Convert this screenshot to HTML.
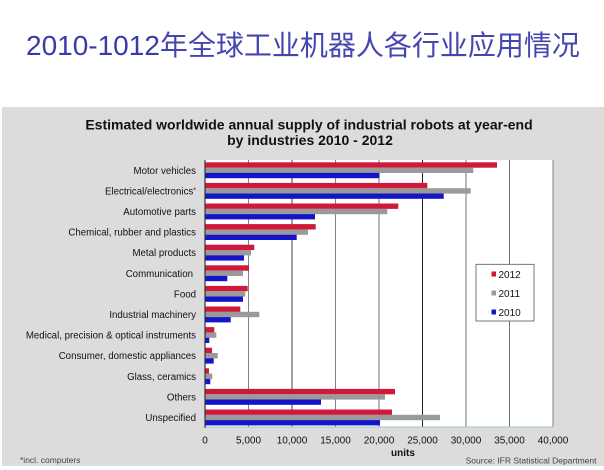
<!DOCTYPE html>
<html><head><meta charset="utf-8"><style>
html,body{margin:0;padding:0;background:#fff;}
svg{display:block;}
</style></head><body>
<svg width="604" height="470" viewBox="0 0 604 470" xmlns="http://www.w3.org/2000/svg" font-family="'Liberation Sans', Arial, sans-serif">
<rect width="604" height="470" fill="#fff"/>
<text x="26" y="55" font-size="28" fill="#3a3aa8" font-family="'Liberation Sans','Noto Sans CJK SC',sans-serif">2010-1012<tspan font-size="28" font-family="'Noto Sans CJK SC','WenQuanYi Zen Hei',sans-serif" fill="#4646b0">年全球工业机器人各行业应用情况</tspan></text>
<rect x="2" y="107" width="602" height="359" fill="#dcdcdc"/>
<text x="309" y="129.5" font-size="14" font-weight="bold" fill="#111" text-anchor="middle">Estimated worldwide annual supply of industrial robots at year-end</text>
<text x="310" y="145" font-size="14" font-weight="bold" fill="#111" text-anchor="middle">by industries 2010 - 2012</text>
<rect x="205" y="160" width="348" height="267" fill="#fff"/>
<g stroke-width="1">
<line x1="248.5" y1="160" x2="248.5" y2="427" stroke="#808080"/>
<line x1="292" y1="160" x2="292" y2="427" stroke="#404040"/>
<line x1="335.5" y1="160" x2="335.5" y2="427" stroke="#808080"/>
<line x1="379" y1="160" x2="379" y2="427" stroke="#a0a0a0" stroke-width="1.5"/>
<line x1="422.5" y1="160" x2="422.5" y2="427" stroke="#222"/>
<line x1="466" y1="160" x2="466" y2="427" stroke="#707070"/>
<line x1="509.5" y1="160" x2="509.5" y2="427" stroke="#707070"/>
<line x1="553" y1="160" x2="553" y2="427" stroke="#808080"/>
</g>
<g>
<rect x="205.5" y="162.3" width="291.5" height="5.4" fill="#d0193a"/><rect x="205.5" y="167.6" width="267.8" height="5.4" fill="#9a9a9a"/><rect x="205.5" y="172.9" width="173.8" height="5.3" fill="#1414c8"/>
<rect x="205.5" y="182.9" width="221.8" height="5.4" fill="#d0193a"/><rect x="205.5" y="188.2" width="265.2" height="5.4" fill="#9a9a9a"/><rect x="205.5" y="193.5" width="238.2" height="5.3" fill="#1414c8"/>
<rect x="205.5" y="203.5" width="192.8" height="5.4" fill="#d0193a"/><rect x="205.5" y="208.8" width="181.8" height="5.4" fill="#9a9a9a"/><rect x="205.5" y="214.1" width="109.5" height="5.3" fill="#1414c8"/>
<rect x="205.5" y="224.1" width="110.2" height="5.4" fill="#d0193a"/><rect x="205.5" y="229.4" width="102.5" height="5.4" fill="#9a9a9a"/><rect x="205.5" y="234.7" width="91.2" height="5.3" fill="#1414c8"/>
<rect x="205.5" y="244.7" width="48.8" height="5.4" fill="#d0193a"/><rect x="205.5" y="250.0" width="45.5" height="5.4" fill="#9a9a9a"/><rect x="205.5" y="255.3" width="38.5" height="5.3" fill="#1414c8"/>
<rect x="205.5" y="265.3" width="43.5" height="5.4" fill="#d0193a"/><rect x="205.5" y="270.6" width="37.5" height="5.4" fill="#9a9a9a"/><rect x="205.5" y="275.9" width="21.8" height="5.3" fill="#1414c8"/>
<rect x="205.5" y="285.9" width="42.2" height="5.4" fill="#d0193a"/><rect x="205.5" y="291.2" width="39.8" height="5.4" fill="#9a9a9a"/><rect x="205.5" y="296.5" width="37.5" height="5.3" fill="#1414c8"/>
<rect x="205.5" y="306.5" width="34.8" height="5.4" fill="#d0193a"/><rect x="205.5" y="311.8" width="53.8" height="5.4" fill="#9a9a9a"/><rect x="205.5" y="317.1" width="25.2" height="5.3" fill="#1414c8"/>
<rect x="205.5" y="327.1" width="8.8" height="5.4" fill="#d0193a"/><rect x="205.5" y="332.4" width="10.8" height="5.4" fill="#9a9a9a"/><rect x="205.5" y="337.7" width="3.8" height="5.3" fill="#1414c8"/>
<rect x="205.5" y="347.7" width="6.5" height="5.4" fill="#d0193a"/><rect x="205.5" y="353.0" width="12.2" height="5.4" fill="#9a9a9a"/><rect x="205.5" y="358.3" width="8.2" height="5.3" fill="#1414c8"/>
<rect x="205.5" y="368.3" width="3.5" height="5.4" fill="#d0193a"/><rect x="205.5" y="373.6" width="6.8" height="5.4" fill="#9a9a9a"/><rect x="205.5" y="378.9" width="4.8" height="5.3" fill="#1414c8"/>
<rect x="205.5" y="388.9" width="189.5" height="5.4" fill="#d0193a"/><rect x="205.5" y="394.2" width="179.5" height="5.4" fill="#9a9a9a"/><rect x="205.5" y="399.5" width="115.5" height="5.3" fill="#1414c8"/>
<rect x="205.5" y="409.5" width="186.5" height="5.4" fill="#d0193a"/><rect x="205.5" y="414.8" width="234.5" height="5.4" fill="#9a9a9a"/><rect x="205.5" y="420.1" width="174.5" height="5.3" fill="#1414c8"/>
</g>
<line x1="205" y1="427" x2="553" y2="427" stroke="#9cc6c6" stroke-width="1"/>
<line x1="205" y1="160" x2="205" y2="428" stroke="#333" stroke-width="1.2"/>
<g font-size="9.7" fill="#111" text-anchor="end">
<text x="196" y="173.8">Motor vehicles</text>
<text x="196" y="194.4">Electrical/electronics<tspan font-size="7" dy="-2">*</tspan></text>
<text x="196" y="215.0">Automotive parts</text>
<text x="196" y="235.6">Chemical, rubber and plastics</text>
<text x="196" y="256.2">Metal products</text>
<text x="193" y="276.8">Communication</text>
<text x="196" y="297.4">Food</text>
<text x="196" y="318.0">Industrial machinery</text>
<text x="196" y="338.6">Medical, precision &amp; optical instruments</text>
<text x="196" y="359.2">Consumer, domestic appliances</text>
<text x="196" y="379.8">Glass, ceramics</text>
<text x="196" y="400.4">Others</text>
<text x="196" y="421.0">Unspecified</text>
</g>
<g font-size="10" fill="#111" text-anchor="middle">
<text x="205" y="443.5">0</text>
<text x="248.5" y="443.5">5,000</text>
<text x="292" y="443.5">10,000</text>
<text x="335.5" y="443.5">15,000</text>
<text x="379" y="443.5">20,000</text>
<text x="422.5" y="443.5">25,000</text>
<text x="466" y="443.5">30,000</text>
<text x="509.5" y="443.5">35,000</text>
<text x="553" y="443.5">40,000</text>
<text x="403" y="456" font-weight="bold">units</text>
</g>
<rect x="476" y="264.3" width="58" height="56.7" fill="#fff" stroke="#555" stroke-width="0.8"/>
<rect x="491.5" y="271.5" width="4.5" height="5" fill="#d0193a"/>
<rect x="491.5" y="290.5" width="4.5" height="5" fill="#9a9a9a"/>
<rect x="491.5" y="309.5" width="4.5" height="5" fill="#1414c8"/>
<g font-size="10" fill="#111">
<text x="498.5" y="278">2012</text>
<text x="498.5" y="297">2011</text>
<text x="498.5" y="316">2010</text>
</g>
<text x="20" y="463" font-size="8.5" fill="#444">*incl. computers</text>
<text x="596.5" y="463.5" font-size="8.5" fill="#444" text-anchor="end">Source: IFR Statistical Department</text>
</svg>
</body></html>
